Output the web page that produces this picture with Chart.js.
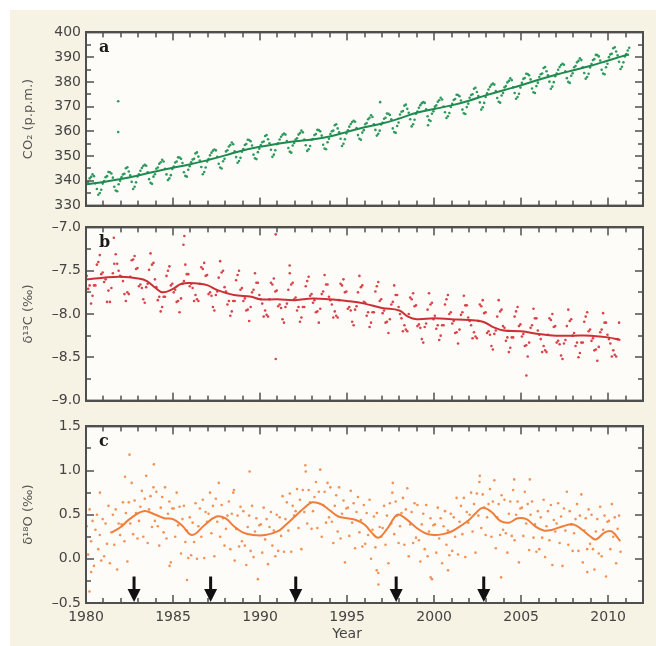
<!DOCTYPE html>
<html>
<head>
<meta charset="utf-8">
<script src="https://cdn.jsdelivr.net/npm/chart.js@4.4.1/dist/chart.umd.min.js"></script>
<style>
  html, body { margin: 0; padding: 0; background: #fff; }
  #fig { position: relative; width: 656px; height: 646px; overflow: hidden; }
  #beige { position: absolute; left: 10px; top: 10px; right: 0; bottom: 0; background: #f7f3e4; }
  .box { position: absolute; left: 0; width: 656px; }
</style>
</head>
<body>
<div id="fig">
  <div id="beige"></div>
  <div class="box" style="top:19px;height:200px"><canvas id="chartA"></canvas></div>
  <div class="box" style="top:214px;height:200px"><canvas id="chartB"></canvas></div>
  <div class="box" style="top:413px;height:233px"><canvas id="chartC"></canvas></div>
</div>
<script>
// ---------- datos ----------
const xLabelYears = [1980, 1985, 1990, 1995, 2000, 2005, 2010];

// CO2 (p.p.m.), valores mensuales por año
const co2Years = [1980,1981,1982,1983,1984,1985,1986,1987,1988,1989,1990,1991,1992,1993,1994,1995,
                  1996,1997,1998,1999,2000,2001,2002,2003,2004,2005,2006,2007,2008,2009,2010,2011];
const co2Monthly = [
  [339.0,339.5,341.0,341.6,342.6,341.9,339.0,336.7,334.4,335.1,336.4,338.9],
  [339.9,341.5,341.9,343.6,343.5,343.0,341.3,337.6,336.1,335.8,338.6,340.0],
  [341.5,342.6,342.9,345.1,345.5,343.8,342.2,339.6,336.7,337.6,339.4,341.8],
  [342.6,344.1,345.2,346.0,346.5,346.1,343.5,340.7,339.2,338.8,341.7,342.7],
  [344.9,345.4,346.9,347.5,348.5,347.8,344.9,342.6,340.3,341.0,342.3,344.8],
  [345.8,347.4,347.8,349.5,349.4,348.9,347.2,343.5,342.0,341.7,344.5,345.9],
  [347.5,348.6,348.9,351.1,351.5,349.8,348.2,345.6,342.7,343.6,345.4,347.8],
  [348.8,350.3,351.4,352.2,352.7,352.3,349.7,346.9,345.4,345.0,347.9,348.9],
  [351.9,352.4,353.9,354.5,355.5,354.8,351.9,349.6,347.3,348.0,349.3,351.8],
  [352.9,354.5,354.9,356.6,356.5,356.0,354.3,350.6,349.1,348.8,351.6,353.0],
  [354.5,355.6,355.9,358.1,358.5,356.8,355.2,352.6,349.7,350.6,352.4,354.8],
  [355.2,356.7,357.8,358.6,359.1,358.7,356.1,353.3,351.8,351.4,354.3,355.3],
  [356.7,357.2,358.7,359.3,360.3,359.6,356.7,354.4,352.1,352.8,354.1,356.6],
  [356.9,358.5,358.9,360.6,360.5,360.0,358.3,354.6,353.1,352.8,355.6,357.0],
  [358.9,360.0,360.3,362.5,362.9,361.2,359.6,357.0,354.1,355.0,356.8,359.2],
  [360.4,361.9,363.0,363.8,364.3,363.9,361.3,358.5,357.0,356.6,359.5,360.5],
  [362.9,363.4,364.9,365.5,366.5,365.8,362.9,360.6,358.3,359.0,360.3,362.8],
  [363.5,365.1,365.5,367.2,367.1,366.6,364.9,361.2,359.7,359.4,362.2,363.6],
  [366.8,367.9,368.2,370.4,370.8,369.1,367.5,364.9,362.0,362.9,364.7,367.1],
  [368.0,369.5,370.6,371.4,371.9,371.5,368.9,366.1,364.6,364.2,367.1,368.1],
  [370.0,370.5,372.0,372.6,373.6,372.9,370.0,367.7,365.4,366.1,367.4,369.9],
  [371.1,372.7,373.1,374.8,374.7,374.2,372.5,368.8,367.3,367.0,369.8,371.2],
  [373.6,374.7,375.0,377.2,377.6,375.9,374.3,371.7,368.8,369.7,371.5,373.9],
  [375.4,376.9,378.0,378.8,379.3,378.9,376.3,373.5,372.0,371.6,374.5,375.5],
  [377.8,378.3,379.8,380.4,381.4,380.7,377.8,375.5,373.2,373.9,375.2,377.7],
  [379.6,381.2,381.6,383.3,383.2,382.7,381.0,377.3,375.8,375.5,378.3,379.7],
  [382.0,383.1,383.4,385.6,386.0,384.3,382.7,380.1,377.2,378.1,379.9,382.3],
  [383.4,384.9,386.0,386.8,387.3,386.9,384.3,381.5,380.0,379.6,382.5,383.5],
  [385.9,386.4,387.9,388.5,389.5,388.8,385.9,383.6,381.3,382.0,383.3,385.8],
  [387.2,388.8,389.2,390.9,390.8,390.3,388.6,384.9,383.4,383.1,385.9,387.3],
  [390.0,391.1,391.4,393.6,394.0,392.3,390.7,388.1,385.2,386.1,387.9,390.3],
  [391.2,392.7,393.8]
];
const co2OutX = [1981.85, 1981.85, 1996.9, 1999.65];
const co2OutY = [372.2, 359.7, 371.8, 362.5];
const co2TrendX = [1980,1981,1982,1983,1984,1985,1986,1987,1988,1989,1990,1991,1992,1993,1994,1995,
                   1996,1997,1998,1999,2000,2001,2002,2003,2004,2005,2006,2007,2008,2009,2010,2011,2011.2];
const co2TrendY = [338.6,339.5,340.75,342.2,343.8,345.3,346.7,348.4,350.3,352.3,353.75,355.0,356.0,356.75,
                   357.95,359.8,361.7,363.15,365.2,367.55,369.05,370.5,372.4,374.65,376.65,378.65,380.85,
                   382.85,384.7,386.5,388.65,390.75,391.1];
const co2Ticks = [330, 340, 350, 360, 370, 380, 390, 400];

// delta 13C (permil)
const c13Years = [1980,1981,1982,1983,1984,1985,1986,1987,1988,1989,1990,1991,1992,1993,1994,1995,
                  1996,1997,1998,1999,2000,2001,2002,2003,2004,2005,2006,2007,2008,2009,2010];
const c13Monthly = [
  [-7.56,-7.71,-7.67,-7.88,-7.79,-7.67,-7.67,-7.43,-7.40,-7.32,-7.54,-7.52],
  [-7.63,-7.60,-7.86,-7.73,-7.86,-7.70,-7.53,-7.42,-7.31,-7.42,-7.50,-7.56],
  [-7.57,-7.62,-7.77,-7.85,-7.75,-7.77,-7.57,-7.38,-7.37,-7.33,-7.48,-7.47],
  [-7.68,-7.66,-7.70,-7.83,-7.87,-7.69,-7.65,-7.49,-7.30,-7.43,-7.41,-7.60],
  [-7.69,-7.84,-7.80,-7.97,-7.92,-7.80,-7.80,-7.56,-7.50,-7.45,-7.67,-7.65],
  [-7.75,-7.72,-7.86,-7.85,-7.98,-7.82,-7.65,-7.62,-7.43,-7.54,-7.54,-7.68],
  [-7.65,-7.70,-7.85,-7.78,-7.83,-7.85,-7.65,-7.46,-7.48,-7.41,-7.56,-7.55],
  [-7.77,-7.75,-7.79,-7.92,-7.96,-7.78,-7.74,-7.58,-7.39,-7.52,-7.50,-7.69],
  [-7.74,-7.89,-7.85,-8.02,-7.97,-7.85,-7.85,-7.61,-7.55,-7.50,-7.72,-7.70],
  [-7.85,-7.82,-7.96,-7.95,-8.08,-7.92,-7.75,-7.72,-7.53,-7.64,-7.64,-7.78],
  [-7.83,-7.88,-8.03,-7.96,-8.01,-8.03,-7.83,-7.64,-7.66,-7.59,-7.74,-7.73],
  [-7.91,-7.89,-7.93,-8.06,-8.10,-7.92,-7.88,-7.72,-7.53,-7.66,-7.64,-7.83],
  [-7.81,-7.96,-7.92,-8.09,-8.04,-7.92,-7.92,-7.68,-7.62,-7.57,-7.79,-7.77],
  [-7.87,-7.84,-7.98,-7.97,-8.10,-7.94,-7.77,-7.74,-7.55,-7.66,-7.66,-7.80],
  [-7.84,-7.89,-8.04,-7.97,-8.02,-8.04,-7.84,-7.65,-7.67,-7.60,-7.75,-7.74],
  [-7.94,-7.92,-7.96,-8.09,-8.13,-7.95,-7.91,-7.75,-7.56,-7.69,-7.67,-7.86],
  [-7.87,-8.02,-7.98,-8.15,-8.10,-7.98,-7.98,-7.74,-7.68,-7.63,-7.85,-7.83],
  [-7.99,-7.96,-8.10,-8.09,-8.22,-8.06,-7.89,-7.86,-7.67,-7.78,-7.78,-7.92],
  [-8.00,-8.05,-8.20,-8.13,-8.18,-8.20,-8.00,-7.81,-7.83,-7.76,-7.91,-7.90],
  [-8.14,-8.12,-8.16,-8.29,-8.33,-8.15,-8.11,-7.95,-7.76,-7.89,-7.87,-8.06],
  [-8.02,-8.17,-8.13,-8.30,-8.25,-8.13,-8.13,-7.89,-7.83,-7.78,-8.00,-7.98],
  [-8.11,-8.08,-8.22,-8.21,-8.34,-8.18,-8.01,-7.98,-7.79,-7.90,-7.90,-8.04],
  [-8.08,-8.13,-8.28,-8.21,-8.26,-8.28,-8.08,-7.89,-7.91,-7.84,-7.99,-7.98],
  [-8.22,-8.20,-8.24,-8.37,-8.41,-8.23,-8.19,-8.03,-7.84,-7.97,-7.95,-8.14],
  [-8.16,-8.31,-8.27,-8.44,-8.39,-8.27,-8.27,-8.03,-7.97,-7.92,-8.14,-8.12],
  [-8.26,-8.23,-8.37,-8.36,-8.49,-8.33,-8.16,-8.13,-7.94,-8.05,-8.05,-8.19],
  [-8.24,-8.29,-8.44,-8.37,-8.42,-8.44,-8.24,-8.05,-8.07,-8.00,-8.15,-8.14],
  [-8.33,-8.31,-8.35,-8.48,-8.52,-8.34,-8.30,-8.14,-7.95,-8.08,-8.06,-8.25],
  [-8.22,-8.37,-8.33,-8.50,-8.45,-8.33,-8.33,-8.09,-8.03,-7.98,-8.20,-8.18],
  [-8.31,-8.28,-8.42,-8.41,-8.54,-8.38,-8.21,-8.18,-7.99,-8.10,-8.10,-8.24],
  [-8.29,-8.34,-8.49,-8.42,-8.47,-8.49,-8.29,-8.10]
];
const c13OutX = [1981.6, 1985.65, 1985.6, 1990.9, 1990.9, 2005.3, 1991.7];
const c13OutY = [-7.12, -7.10, -7.20, -7.08, -8.52, -8.71, -7.44];
const c13TrendX = [1980.0,1981.0,1982.0,1983.0,1983.5,1984.0,1984.4,1985.0,1985.5,1986.5,1987.0,1987.5,1988.5,
                   1989.5,1990.0,1991.0,1992.0,1993.0,1994.0,1995.0,1996.0,1997.0,1998.0,1998.5,1999.0,2000.0,
                   2001.0,2002.0,2002.8,2003.5,2004.0,2005.0,2006.0,2007.0,2008.0,2009.0,2010.0,2010.7];
const c13TrendY = [-7.60,-7.58,-7.57,-7.59,-7.62,-7.70,-7.75,-7.71,-7.65,-7.65,-7.67,-7.72,-7.78,
                   -7.80,-7.83,-7.83,-7.84,-7.82,-7.83,-7.85,-7.88,-7.93,-7.96,-8.03,-8.06,-8.05,
                   -8.06,-8.07,-8.09,-8.16,-8.19,-8.20,-8.23,-8.25,-8.25,-8.25,-8.27,-8.30];
const c13Ticks = [-9.0, -8.5, -8.0, -7.5, -7.0];

// delta 18O (permil)
const o18Years = c13Years;
const o18Monthly = [
  [0.37,0.05,0.56,0.20,0.43,-0.08,0.33,0.50,0.11,0.27,-0.02,0.45],
  [0.03,0.40,0.17,0.60,-0.05,0.30,0.50,0.16,0.56,-0.12,0.40,0.27],
  [0.39,0.64,0.20,0.52,-0.03,0.64,0.40,0.86,0.28,0.66,0.52,0.23],
  [0.43,0.59,0.77,0.25,0.68,0.94,0.18,0.56,0.71,0.36,0.81,0.43],
  [0.76,0.37,0.15,0.58,0.70,0.30,0.81,0.23,0.51,0.65,-0.04,0.57],
  [0.57,0.25,0.75,0.38,0.59,0.06,0.45,0.60,0.19,0.32,0.01,0.47],
  [0.04,0.41,0.19,0.63,0.00,0.37,0.57,0.25,0.67,0.01,0.53,0.42],
  [0.51,0.75,0.29,0.60,0.03,0.68,0.42,0.86,0.25,0.61,0.46,0.15],
  [0.34,0.49,0.65,0.11,0.51,0.75,-0.02,0.34,0.49,0.14,0.59,0.20],
  [0.54,0.15,-0.07,0.36,0.49,0.09,0.60,0.02,0.31,0.46,-0.23,0.38],
  [0.39,0.07,0.58,0.22,0.45,-0.06,0.36,0.53,0.15,0.32,0.03,0.50],
  [0.09,0.47,0.26,0.71,0.08,0.45,0.64,0.32,0.74,0.08,0.60,0.49],
  [0.54,0.79,0.35,0.67,0.11,0.78,0.53,0.99,0.40,0.78,0.64,0.34],
  [0.54,0.70,0.87,0.35,0.76,1.01,0.25,0.61,0.76,0.41,0.86,0.47],
  [0.81,0.42,0.18,0.60,0.72,0.31,0.81,0.23,0.51,0.66,-0.04,0.57],
  [0.58,0.26,0.77,0.41,0.63,0.12,0.53,0.70,0.30,0.44,0.14,0.61],
  [0.17,0.52,0.27,0.67,0.00,0.33,0.48,0.13,0.52,-0.16,0.36,0.25],
  [0.35,0.60,0.16,0.49,-0.05,0.63,0.40,0.86,0.28,0.65,0.49,0.18],
  [0.37,0.52,0.69,0.16,0.56,0.80,0.03,0.39,0.53,0.18,0.63,0.24],
  [0.61,0.21,-0.03,0.39,0.51,0.11,0.61,0.03,0.31,0.46,-0.23,0.38],
  [0.39,0.07,0.58,0.23,0.46,-0.05,0.37,0.54,0.16,0.32,0.04,0.51],
  [0.09,0.47,0.25,0.69,0.05,0.42,0.60,0.28,0.69,0.02,0.53,0.41],
  [0.50,0.75,0.31,0.62,0.07,0.74,0.49,0.94,0.35,0.73,0.58,0.27],
  [0.47,0.62,0.79,0.25,0.65,0.89,0.12,0.47,0.62,0.27,0.72,0.33],
  [0.67,0.29,0.07,0.51,0.65,0.26,0.78,0.21,0.50,0.65,-0.04,0.57],
  [0.58,0.26,0.76,0.40,0.62,0.10,0.50,0.65,0.24,0.39,0.08,0.54],
  [0.11,0.47,0.24,0.67,0.02,0.37,0.54,0.21,0.61,-0.07,0.44,0.31],
  [0.40,0.63,0.18,0.48,-0.08,0.57,0.32,0.76,0.16,0.54,0.39,0.09],
  [0.29,0.45,0.62,0.09,0.49,0.73,-0.04,0.32,0.46,0.11,0.56,0.17],
  [0.50,0.11,-0.12,0.31,0.45,0.06,0.59,0.03,0.33,0.49,-0.20,0.42],
  [0.43,0.11,0.62,0.25,0.47,-0.05,0.34,0.49,0.08]
];
const o18OutX = [1980.2,1980.3,1980.8,1982.24,1982.5,1983.9,1984.8,1985.8,1988.5,1989.4,1992.6,1996.8,1996.7,
                 1997.6,1999.8,2000.8,2002.6,2003.85,2004.6,2005.5,2008.8];
const o18OutY = [-0.37,-0.15,0.75,0.93,1.18,1.07,-0.08,-0.24,0.78,0.99,1.06,-0.29,-0.13,
                 0.75,-0.21,-0.13,0.87,-0.21,0.90,0.90,-0.15];
const o18TrendX = [1981.5,1982.0,1982.5,1983.3,1984.0,1984.5,1985.0,1985.5,1986.1,1986.8,1987.5,1988.0,1988.5,
                   1989.0,1989.6,1990.3,1991.0,1991.5,1992.0,1992.5,1993.0,1993.5,1994.0,1994.5,1995.0,1995.5,
                   1996.0,1996.4,1996.8,1997.3,1997.9,1998.4,1999.0,1999.5,2000.0,2000.5,2001.0,2001.5,2002.0,
                   2002.4,2002.8,2003.3,2003.8,2004.3,2004.8,2005.3,2005.8,2006.3,2006.8,2007.4,2008.0,2008.5,
                   2009.0,2009.3,2009.8,2010.2,2010.7];
const o18TrendY = [0.30,0.36,0.45,0.54,0.50,0.46,0.45,0.38,0.27,0.38,0.48,0.46,0.37,
                   0.30,0.27,0.27,0.31,0.39,0.48,0.57,0.64,0.62,0.55,0.48,0.46,0.44,
                   0.39,0.30,0.24,0.34,0.50,0.45,0.35,0.29,0.27,0.28,0.31,0.37,0.44,
                   0.52,0.58,0.53,0.43,0.41,0.46,0.45,0.37,0.32,0.33,0.37,0.39,0.33,
                   0.25,0.22,0.30,0.31,0.20];
const o18Ticks = [-0.5, 0.0, 0.5, 1.0, 1.5];
const arrowYears = [1982.76, 1987.16, 1992.05, 1997.82, 2002.85];

// ---------- utilidades ----------
function mensual(years, rows) {
    const pts = [];
    years.forEach((yr, i) => {
        rows[i].forEach((v, m) => pts.push({ x: yr + (m + 0.5) / 12, y: v }));
    });
    return pts;
}

function pares(xs, ys) {
    return xs.map((x, i) => ({ x: x, y: ys[i] }));
}

function etiqueta(v, dec) {
    return (v < 0 ? '\u2013' : '') + Math.abs(v).toFixed(dec);
}

const MARCO = '#4f4f4f';

// eje auxiliar solo para dibujar el borde (arriba / derecha)
function ejeBorde(pos) {
    return {
        type: 'linear', position: pos, display: true,
        min: 0, max: 1,
        grid: { display: false, drawTicks: false },
        border: { display: true, color: MARCO, width: 2 },
        ticks: { display: false },
        afterFit: s => { if (pos === 'top') s.height = 0; else s.width = 0; }
    };
}

// marco, ticks interiores, letra, flechas
function dibujarMarco(chart, cfg) {
    const ctx = chart.ctx;
    const a = chart.chartArea;
    const x = chart.scales.x;
    const y = chart.scales.y;
    const L = a.left, R = a.right, T = a.top, B = a.bottom;
    ctx.save();
    ctx.fillStyle = MARCO;
    ctx.fillRect(L - 1, T - 1, R - L + 2, 2);
    ctx.fillRect(L - 1, B - 1, R - L + 2, 2);
    ctx.fillRect(L - 1, T - 1, 2, B - T + 2);
    ctx.fillRect(R - 1, T - 1, 2, B - T + 2);

    for (let v = 1980; v <= 2012; v += 1) {
        const px = Math.round(x.getPixelForValue(v));
        const len = (v % 5 === 0) ? 8 : 5;
        ctx.fillRect(px - 0.75, B - len, 1.5, len);
        ctx.fillRect(px - 0.75, T, 1.5, len);
    }
    const lo = cfg.yTicks[0], hi = cfg.yTicks[cfg.yTicks.length - 1];
    const n = Math.round((hi - lo) / cfg.yMinor);
    for (let k = 0; k <= n; k++) {
        const py = Math.round(y.getPixelForValue(lo + k * cfg.yMinor));
        const len = (k % 2 === 0) ? 8 : 5;
        ctx.fillRect(L, py - 0.75, len, 1.5);
        ctx.fillRect(R - len, py - 0.75, len, 1.5);
    }

    ctx.fillStyle = '#1a1a1a';
    ctx.font = 'bold 16px "DejaVu Serif"';
    ctx.textAlign = 'left';
    ctx.textBaseline = 'alphabetic';
    ctx.fillText(cfg.letter, L + 13, T + 20);

    if (cfg.arrows) {
        ctx.fillStyle = '#111';
        cfg.arrows.forEach(yr => {
            const px = x.getPixelForValue(yr);
            const top = y.getPixelForValue(-0.2);
            const tip = y.getPixelForValue(-0.5) - 1;
            ctx.fillRect(px - 1.5, top, 3, tip - 10 - top);
            ctx.beginPath();
            ctx.moveTo(px - 6.5, tip - 13);
            ctx.lineTo(px + 6.5, tip - 13);
            ctx.lineTo(px, tip);
            ctx.closePath();
            ctx.fill();
        });
    }
    if (cfg.xTitle) {
        ctx.fillStyle = '#444';
        ctx.font = '14px "DejaVu Sans"';
        ctx.textAlign = 'center';
        ctx.textBaseline = 'middle';
        ctx.fillText(cfg.xTitle, x.getPixelForValue(1995), B + 31);
    }
    ctx.restore();
}

function crearPanel(id, cfg) {
    const plugin = {
        id: 'panel_' + id,
        beforeDatasetsDraw(chart) {
            const { ctx, chartArea: a } = chart;
            ctx.save();
            ctx.fillStyle = '#fdfcf8';
            ctx.fillRect(a.left, a.top, a.right - a.left, a.bottom - a.top);
            ctx.restore();
        },
        afterDraw(chart) {
            dibujarMarco(chart, cfg);
        }
    };
    return new Chart(document.getElementById(id), {
        type: 'scatter',
        data: {
            datasets: [
                {
                    data: cfg.trend, showLine: true, pointRadius: 0, borderColor: cfg.lineColor,
                    borderWidth: 2, tension: 0.4, order: 0
                },
                {
                    data: cfg.points, pointRadius: 1.3, borderWidth: 0,
                    backgroundColor: cfg.dotColor, order: 1
                }
            ]
        },
        options: {
            responsive: true,
            maintainAspectRatio: false,
            animation: false,
            events: [],
            layout: { padding: { left: 0, right: 13, top: 10, bottom: cfg.padBottom } },
            plugins: {
                legend: { display: false },
                tooltip: { enabled: false }
            },
            scales: {
                x: {
                    type: 'linear', min: 1980, max: 2012,
                    grid: { display: false, drawTicks: false },
                    border: { display: true, color: MARCO, width: 2 },
                    afterBuildTicks: s => { s.ticks = xLabelYears.map(v => ({ value: v })); },
                    afterFit: s => { s.height = cfg.showX ? 43 : 0; },
                    ticks: { display: cfg.showX, color: '#444', font: { family: 'DejaVu Sans', size: 14 },
                             padding: 6, maxRotation: 0, autoSkip: false, callback: v => String(v) }
                },
                y: {
                    type: 'linear', min: cfg.yTicks[0], max: cfg.yTicks[cfg.yTicks.length - 1],
                    grid: { display: false, drawTicks: false },
                    border: { display: true, color: MARCO, width: 2 },
                    afterBuildTicks: s => { s.ticks = cfg.yTicks.map(v => ({ value: v })); },
                    afterFit: s => { s.width = 86; },
                    ticks: { color: '#444', font: { family: 'DejaVu Sans', size: 14 }, padding: 5,
                             autoSkip: false, callback: v => etiqueta(v, cfg.dec) },
                    title: { display: true, text: cfg.yTitle, color: '#555',
                             font: { family: 'DejaVu Sans', size: 13 }, padding: { top: 21, bottom: 0 } }
                },
                xTop: ejeBorde('top'),
                yRight: ejeBorde('right')
            }
        },
        plugins: [plugin]
    });
}

crearPanel('chartA', {
    letter: 'a', yTicks: co2Ticks, yMinor: 5, dec: 0, showX: false, padBottom: 11,
    yTitle: 'CO\u2082 (p.p.m.)',
    trend: pares(co2TrendX, co2TrendY),
    points: mensual(co2Years, co2Monthly).concat(pares(co2OutX, co2OutY)),
    lineColor: '#1f8a4f', dotColor: '#2f9a5e'
});

crearPanel('chartB', {
    letter: 'b', yTicks: c13Ticks, yMinor: 0.25, dec: 1, showX: false, padBottom: 11,
    yTitle: '\u03b4\u00b9\u00b3C (\u2030)',
    trend: pares(c13TrendX, c13TrendY),
    points: mensual(c13Years, c13Monthly).concat(pares(c13OutX, c13OutY)),
    lineColor: '#cc2f35', dotColor: '#d9434a'
});

crearPanel('chartC', {
    letter: 'c', yTicks: o18Ticks, yMinor: 0.25, dec: 1, showX: true, padBottom: 0,
    yTitle: '\u03b4\u00b9\u2078O (\u2030)', arrows: arrowYears, xTitle: 'Year',
    trend: pares(o18TrendX, o18TrendY),
    points: mensual(o18Years, o18Monthly).concat(pares(o18OutX, o18OutY)),
    lineColor: '#ef7e3c', dotColor: '#f39256'
});
</script>
</body>
</html>
